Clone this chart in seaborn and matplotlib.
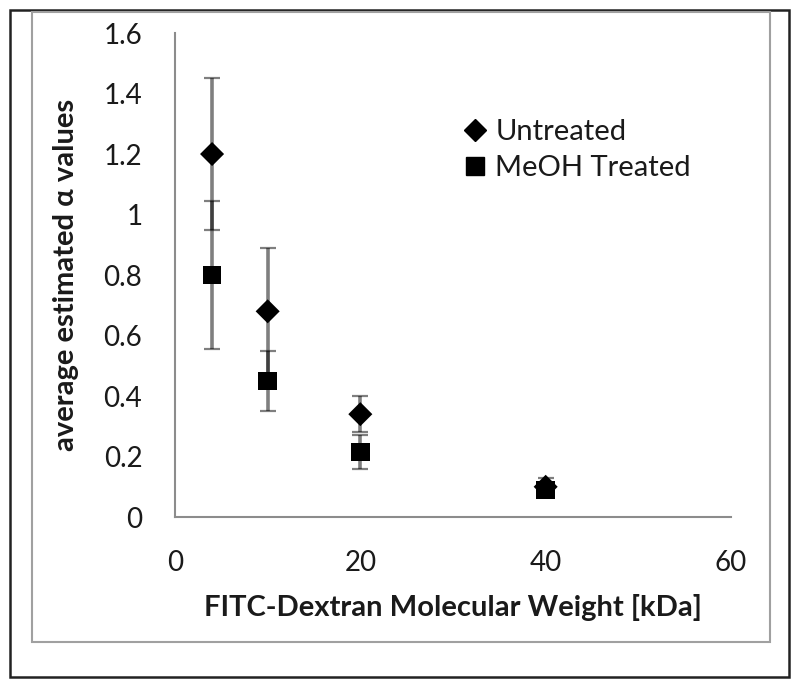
import matplotlib
matplotlib.use("Agg")
import matplotlib.pyplot as plt
from matplotlib.patches import Rectangle
from matplotlib.lines import Line2D
import seaborn as sns
import pandas as pd

# values
mol_weight = [4, 10, 20, 40]
untreated = [1.20, 0.68, 0.34, 0.10]
untreated_err = [0.25, 0.21, 0.06, 0.03]
meoh = [0.80, 0.45, 0.215, 0.09]
meoh_err = [0.245, 0.10, 0.055, 0.02]
series_names = ["Untreated", "MeOH Treated"]
y_ticks = [0, 0.2, 0.4, 0.6, 0.8, 1, 1.2, 1.4, 1.6]
y_tick_labels = ["0", "0.2", "0.4", "0.6", "0.8", "1", "1.2", "1.4", "1.6"]
x_ticks = [0, 20, 40, 60]

df = pd.DataFrame({
    "mw": mol_weight * 2,
    "alpha": untreated + meoh,
    "err": untreated_err + meoh_err,
    "group": [series_names[0]] * 4 + [series_names[1]] * 4,
})

sns.set_style("white")
plt.rcParams["font.family"] = ["Lato", "DejaVu Sans"]

fig = plt.figure(figsize=(8, 6.88), dpi=100)
ax = fig.add_axes([0.21875, 0.2485, 0.695, 0.7035])

# error bars first (semi-transparent so overlaps look darker), markers on top
for name in series_names:
    sub = df[df["group"] == name]
    _, caps, bars = ax.errorbar(sub["mw"], sub["alpha"], yerr=sub["err"],
                                fmt="none", ecolor=(0, 0, 0, 0.5),
                                elinewidth=2.6, capsize=6, capthick=1.6,
                                zorder=2)
    for cap in caps:
        cap.set_color("#1a1a1a")

sns.scatterplot(data=df, x="mw", y="alpha", style="group", size="group",
                markers={"Untreated": "D", "MeOH Treated": "s"},
                sizes={"Untreated": 150, "MeOH Treated": 175},
                color="black", linewidth=0, ax=ax, zorder=3, legend=False)

ax.set_xlim(0, 60)
ax.set_ylim(0, 1.6)
ax.set_xticks(x_ticks)
ax.set_yticks(y_ticks)
ax.set_yticklabels(y_tick_labels)
ax.tick_params(axis="both", direction="out", width=1.5, color="#8c8c8c",
               labelsize=20, labelcolor="#1a1a1a")
ax.tick_params(axis="y", length=8.5, pad=15)
ax.tick_params(axis="x", length=6.5, pad=17)
for side in ["top", "right"]:
    ax.spines[side].set_visible(False)
for side in ["left", "bottom"]:
    ax.spines[side].set_color("#8c8c8c")
    ax.spines[side].set_linewidth(1.5)

ax.set_xlabel("FITC-Dextran Molecular Weight [kDa]", fontsize=21,
              fontweight="bold", labelpad=13, color="#1a1a1a")
ax.set_ylabel("average estimated α values", fontsize=21,
              fontweight="bold", labelpad=18, color="#1a1a1a")

# legend
handles = [Line2D([], [], marker="D", color="black", linestyle="none",
                  markersize=11),
           Line2D([], [], marker="s", color="black", linestyle="none",
                  markersize=12.5)]
fig.legend(handles, series_names, loc="center left",
           bbox_to_anchor=(466 / 800, 1 - 150 / 688),
           bbox_transform=fig.transFigure, frameon=False, fontsize=21,
           handlelength=0.6, handletextpad=0.4, labelspacing=0.35,
           borderpad=0, borderaxespad=0, labelcolor="#1a1a1a")

# frames around the chart
fig.patches.append(Rectangle((10 / 800, 1 - 677 / 688), 779 / 800, 667 / 688,
                             transform=fig.transFigure, fill=False,
                             edgecolor="#222222", linewidth=1.8))
fig.patches.append(Rectangle((32 / 800, 1 - 642 / 688), 738 / 800, 630 / 688,
                             transform=fig.transFigure, fill=False,
                             edgecolor="#a0a0a0", linewidth=1.5))

fig.savefig("out.png", dpi=100)
